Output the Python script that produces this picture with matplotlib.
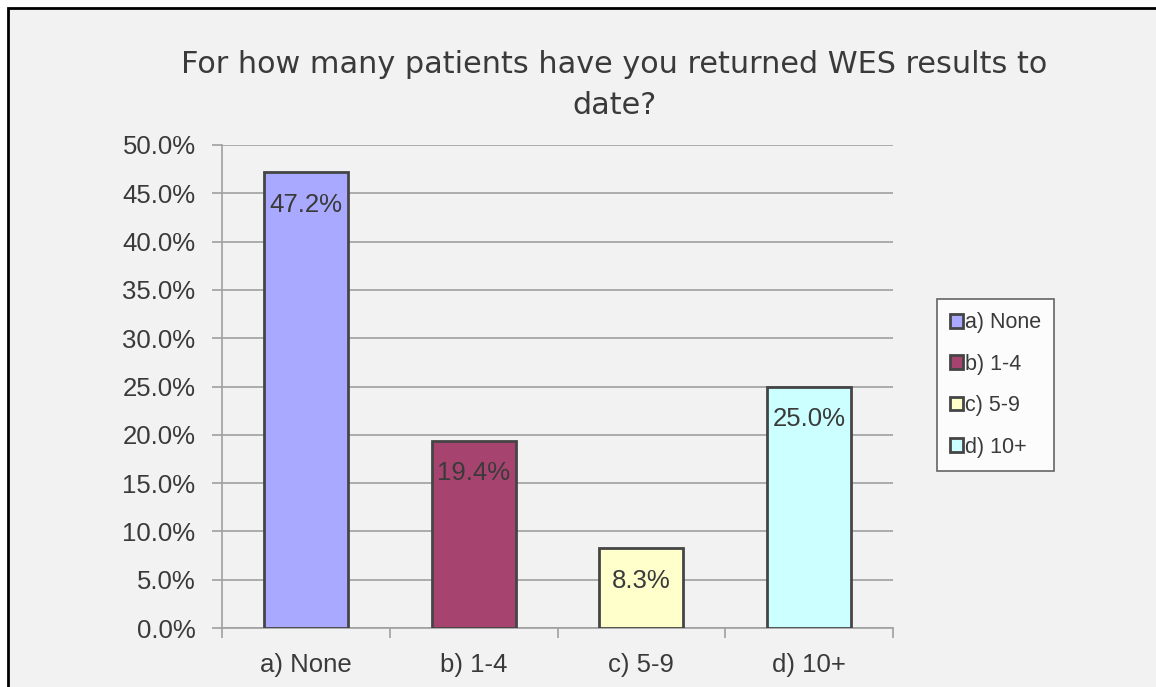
import matplotlib.pyplot as plt
from matplotlib.patches import Rectangle
from matplotlib.ticker import FuncFormatter, FixedLocator

categories = ['a) None', 'b) 1-4', 'c) 5-9', 'd) 10+']
values = [47.2, 19.4, 8.3, 25.0]
colors = ['#a9a9ff', '#a6446f', '#ffffcc', '#ccffff']
title = 'For how many patients have you returned WES results to\ndate?'

txt = '#3a3a3a'
bg = '#f2f2f2'

fig = plt.figure(figsize=(11.56, 6.87), dpi=100)
fig.patch.set_facecolor('white')
# chart area frame
fig.patches.append(Rectangle((8 / 1156, -0.01), 1.1, 1 - 8 / 687 + 0.01,
                             transform=fig.transFigure, facecolor=bg,
                             edgecolor='black', linewidth=2, zorder=-5))

ax = fig.add_axes([222 / 1156, 1 - 628 / 687, 671 / 1156, 483 / 687])
ax.set_facecolor('none')
x = range(len(categories))
bars = ax.bar(x, values, width=0.5, color=colors, edgecolor='#454545',
              linewidth=2, zorder=3)
for b, c in zip(bars, categories):
    b.set_label(c)

ax.set_xlim(-0.5, 3.5)
ax.set_ylim(0, 50)
ax.set_yticks([i * 5 for i in range(11)])
ax.yaxis.set_major_formatter(FuncFormatter(lambda v, p: f'{v:.1f}%'))
ax.grid(axis='y', color='#a0a0a0', linewidth=1.2, zorder=0)
ax.set_axisbelow(True)

ax.set_xticks(list(x))
ax.set_xticklabels(categories)
ax.xaxis.set_minor_locator(FixedLocator([-0.5, 0.5, 1.5, 2.5, 3.5]))
ax.tick_params(axis='x', which='major', length=0, pad=18, labelsize=18.5,
               labelcolor=txt)
ax.tick_params(axis='x', which='minor', length=7, color='#a0a0a0', width=1.2)
ax.tick_params(axis='y', length=7, color='#a0a0a0', width=1.2, pad=12,
               labelsize=18.5, labelcolor=txt)
for lab in ax.get_xticklabels() + ax.get_yticklabels():
    lab.set_family('Liberation Sans')

for s in ['top', 'right']:
    ax.spines[s].set_visible(False)
for s in ['left', 'bottom']:
    ax.spines[s].set_color('#a0a0a0')
    ax.spines[s].set_linewidth(1.2)

for b, v in zip(bars, values):
    ax.text(b.get_x() + b.get_width() / 2, v - 3.4, f'{v:.1f}%',
            ha='center', va='center', fontsize=18.5, color=txt,
            family='Liberation Sans', zorder=4)

fig.text(614 / 1156, 1 - 85 / 687, title, ha='center', va='center',
         fontsize=21.8, color=txt, family='DejaVu Sans', linespacing=1.5)

leg = ax.legend(handles=list(bars), loc='center left',
                bbox_to_anchor=(937 / 1156, 1 - 385 / 687),
                bbox_transform=fig.transFigure, frameon=True, fancybox=False,
                handlelength=0.6, handleheight=0.6, handletextpad=0.1,
                labelspacing=0.95, borderpad=0.6, borderaxespad=0,
                prop={'family': 'Liberation Sans', 'size': 15.5})
leg.get_frame().set_edgecolor('#404040')
leg.get_frame().set_linewidth(1.2)
leg.get_frame().set_facecolor('white')
for t in leg.get_texts():
    t.set_color(txt)

fig.savefig('out.png', dpi=100)
